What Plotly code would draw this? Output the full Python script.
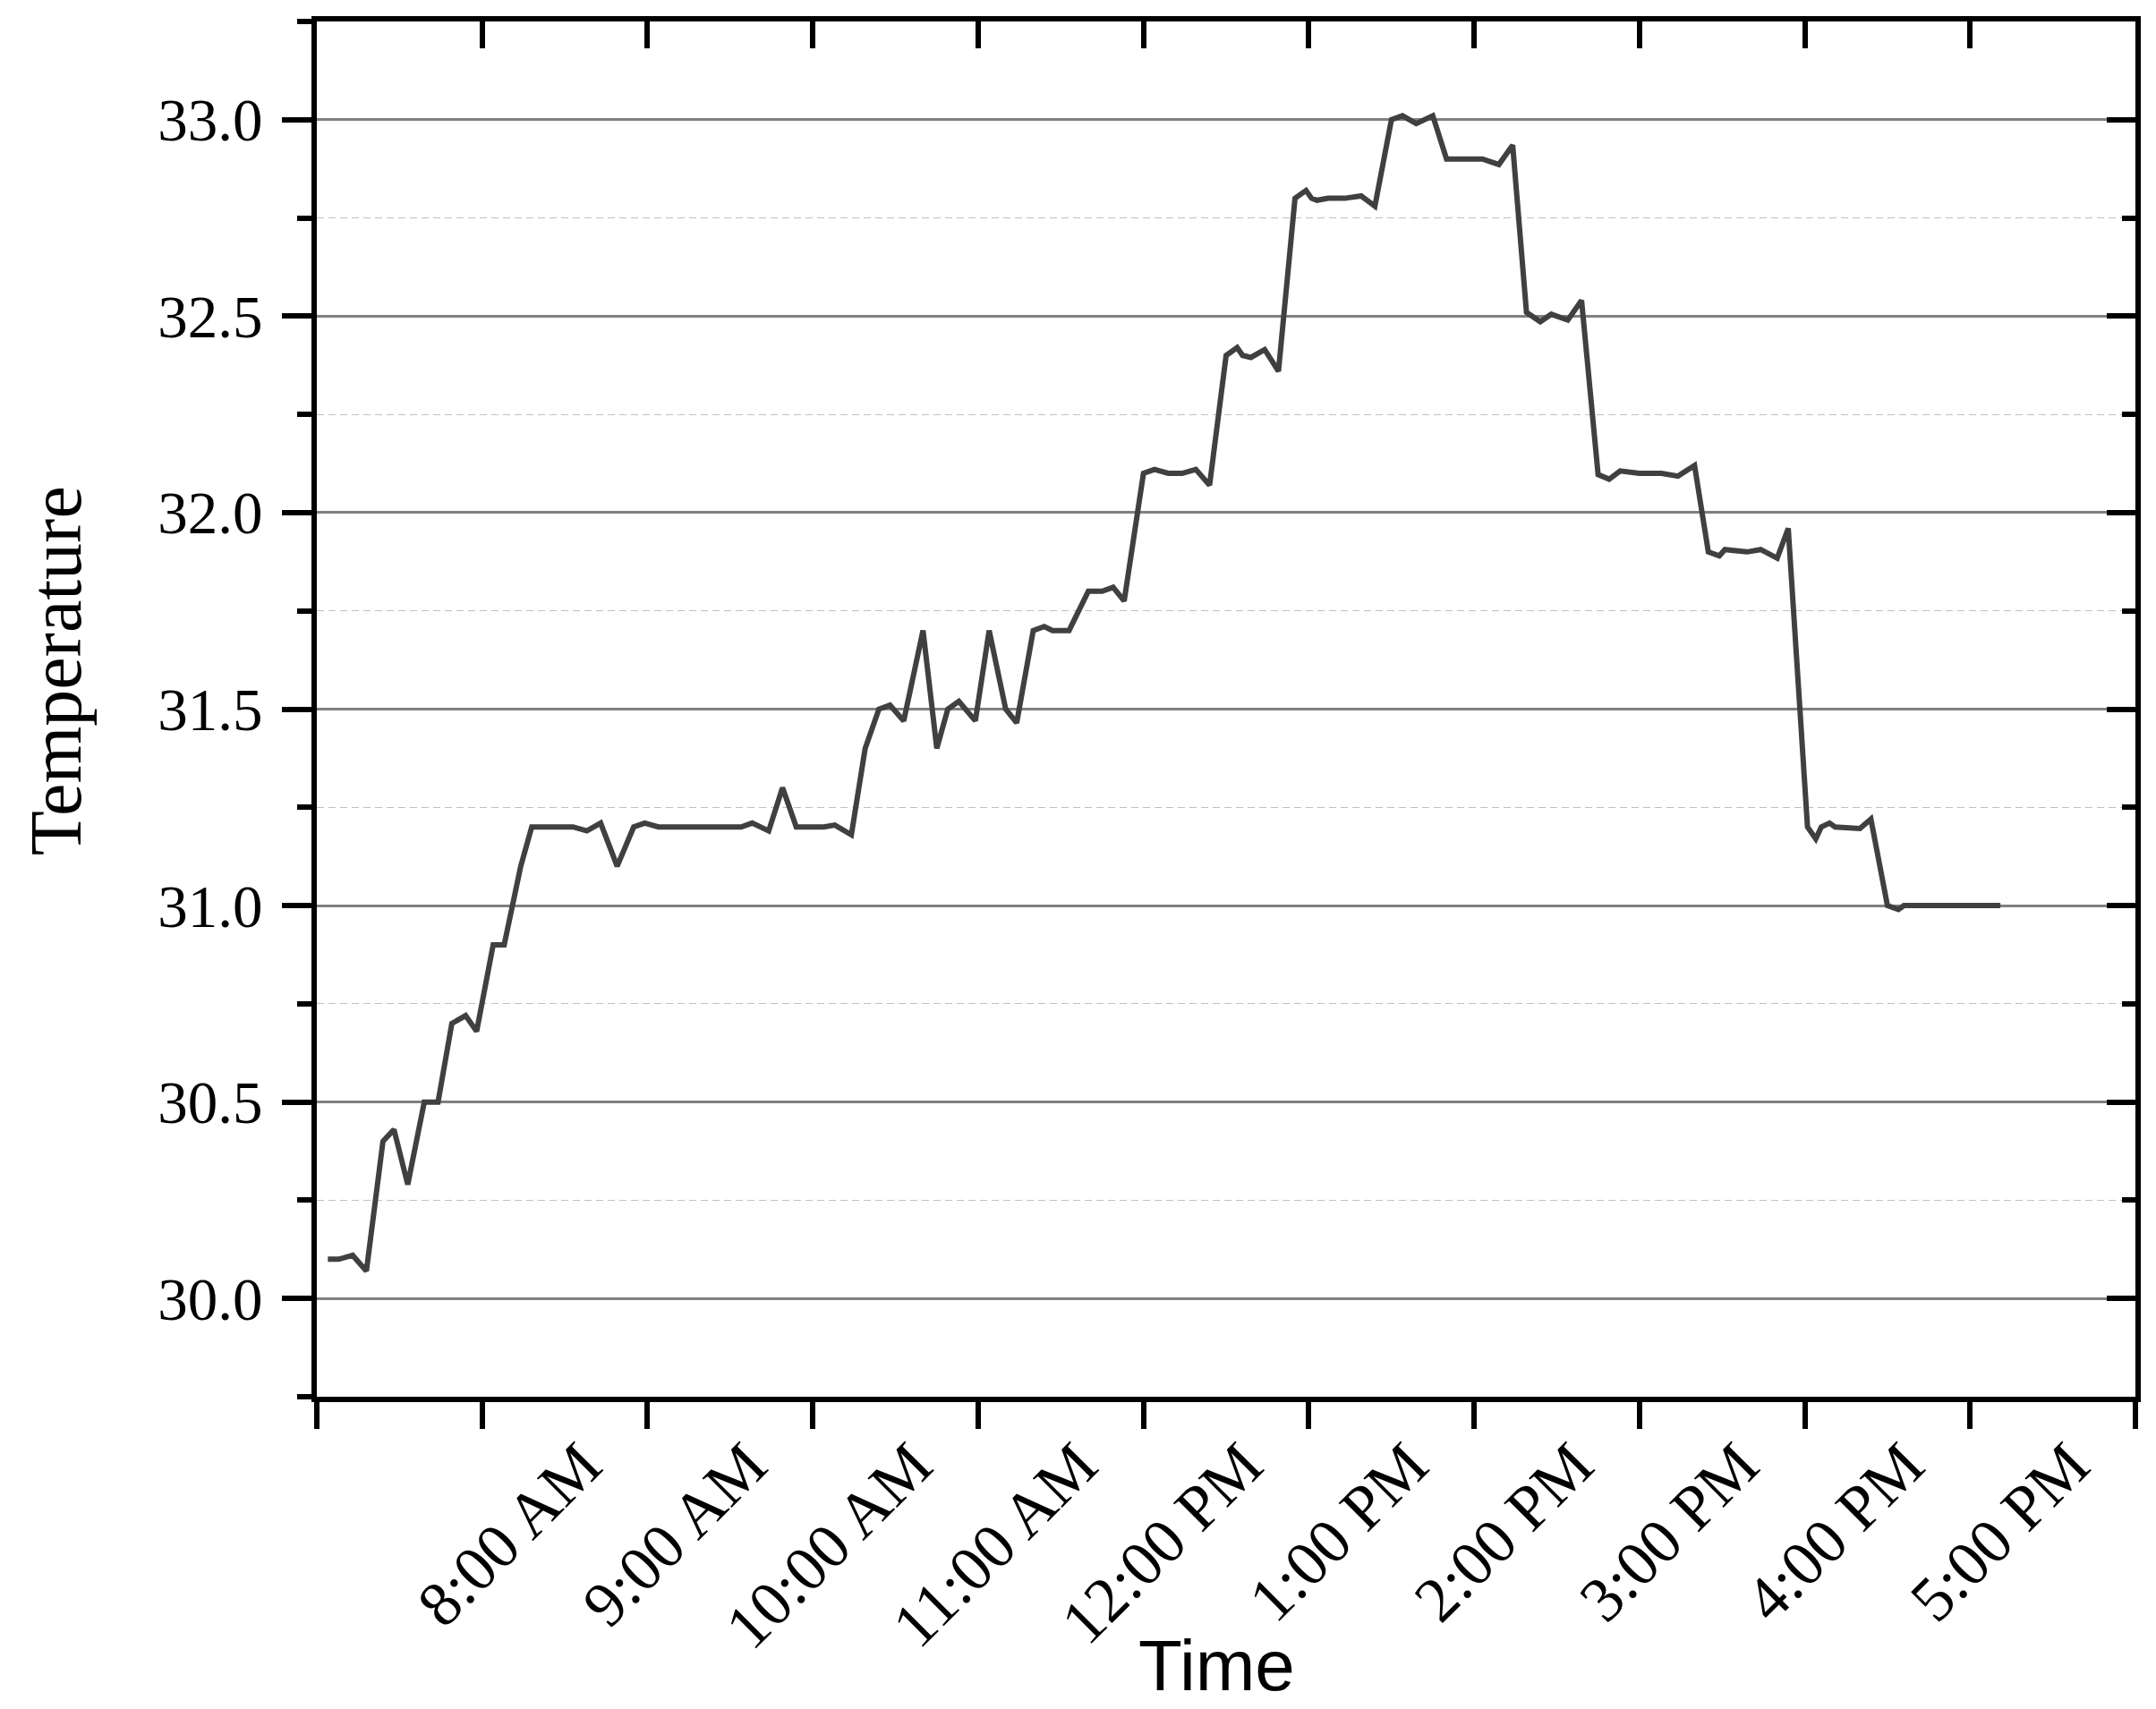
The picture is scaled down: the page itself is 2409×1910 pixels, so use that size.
import plotly.graph_objects as go

# ---- data ----
times = ["07:04","07:08","07:13","07:18","07:24","07:28","07:33","07:39","07:44","07:49",
         "07:54","07:58","08:04","08:08","08:14","08:18","08:23","08:28","08:33","08:38",
         "08:43","08:49","08:55","08:59","09:04","09:09","09:14","09:19","09:24","09:29",
         "09:34","09:38","09:44","09:49","09:54","09:59","10:04","10:08","10:14","10:19",
         "10:24","10:28","10:33","10:40","10:45","10:49","10:53","10:59","11:04","11:10",
         "11:14","11:20","11:24","11:27","11:33","11:40","11:45","11:49","11:53","12:00",
         "12:04","12:09","12:14","12:19","12:24","12:30","12:34","12:36","12:39","12:44",
         "12:49","12:55","12:59","13:01","13:03","13:07","13:13","13:19","13:24","13:30",
         "13:34","13:39","13:45","13:50","13:56","14:03","14:09","14:14","14:19","14:24",
         "14:28","14:34","14:39","14:45","14:49","14:53","15:00","15:04","15:08","15:14",
         "15:20","15:25","15:29","15:31","15:39","15:44","15:50","15:54","16:01","16:04",
         "16:06","16:09","16:11","16:20","16:24","16:30","16:34","16:36","16:44","16:49",
         "16:54","16:59","17:04","17:11"]
temperature = [30.10,30.10,30.11,30.07,30.40,30.43,30.29,30.50,30.50,30.70,
               30.72,30.68,30.90,30.90,31.10,31.20,31.20,31.20,31.20,31.19,
               31.21,31.10,31.20,31.21,31.20,31.20,31.20,31.20,31.20,31.20,
               31.20,31.21,31.19,31.30,31.20,31.20,31.20,31.205,31.18,31.40,
               31.50,31.51,31.47,31.70,31.40,31.50,31.52,31.47,31.70,31.50,
               31.465,31.70,31.71,31.70,31.70,31.80,31.80,31.81,31.775,32.10,
               32.11,32.10,32.10,32.11,32.07,32.40,32.42,32.40,32.395,32.415,
               32.36,32.80,32.82,32.80,32.795,32.80,32.80,32.806,32.78,33.00,
               33.01,32.99,33.01,32.90,32.90,32.90,32.886,32.935,32.51,32.486,
               32.505,32.49,32.54,32.097,32.085,32.106,32.10,32.10,32.10,32.093,
               32.12,31.90,31.89,31.906,31.90,31.906,31.884,31.96,31.20,31.17,
               31.20,31.21,31.20,31.196,31.22,31.00,30.99,31.00,31.00,31.00,
               31.00,31.00,31.00,31.00]
hour_ticks = ["07:00","08:00","09:00","10:00","11:00","12:00","13:00","14:00",
              "15:00","16:00","17:00","18:00"]
hour_labels = ["","8:00 AM","9:00 AM","10:00 AM","11:00 AM","12:00 PM","1:00 PM",
               "2:00 PM","3:00 PM","4:00 PM","5:00 PM",""]
y_ticks = [30.0, 30.5, 31.0, 31.5, 32.0, 32.5, 33.0]
y_labels = ["30.0","30.5","31.0","31.5","32.0","32.5","33.0"]

DAY = "2024-01-01 "
x = [DAY + t for t in times]
xt = [DAY + t for t in hour_ticks]
xrange = [DAY + "07:00", DAY + "18:00"]
yrange = [29.75, 33.25]

serif = "Liberation Serif, Times New Roman, serif"

fig = go.Figure()
fig.add_trace(go.Scatter(x=x, y=temperature, mode="lines",
                         line=dict(color="#404040", width=6), showlegend=False,
                         hoverinfo="skip"))
# invisible trace to activate the mirrored (top/right) axes
fig.add_trace(go.Scatter(x=[xrange[0]], y=[yrange[0]], mode="markers",
                         marker=dict(opacity=0), xaxis="x2", yaxis="y2",
                         showlegend=False, hoverinfo="skip"))

axis_line = dict(showline=True, linecolor="black", linewidth=6, zeroline=False)

fig.update_layout(
    width=2409, height=1910,
    margin=dict(l=346, r=31, t=16, b=357),
    paper_bgcolor="white", plot_bgcolor="white",
    xaxis=dict(type="date", range=xrange, tickmode="array", tickvals=xt,
               ticktext=hour_labels, ticks="outside", ticklen=30, tickwidth=6,
               tickcolor="black", tickangle=-45, ticklabelshift=112,
               ticklabelstandoff=-30,
               tickfont=dict(family=serif, size=71, color="black"),
               showgrid=False, **axis_line),
    yaxis=dict(range=yrange, tickmode="array", tickvals=y_ticks, ticktext=y_labels,
               ticks="outside", ticklen=33, tickwidth=6, tickcolor="black",
               ticklabelstandoff=8,
               tickfont=dict(family=serif, size=67, color="black"),
               showgrid=True, gridcolor="#808080", gridwidth=3,
               minor=dict(tick0=29.75, dtick=0.5, ticks="outside", ticklen=16,
                          tickwidth=6, tickcolor="black", showgrid=True,
                          gridcolor="#c0c0c0", gridwidth=1.3, griddash="8px,5px"),
               **axis_line),
    xaxis2=dict(type="date", range=xrange, overlaying="x", side="top", anchor="y2",
                tickmode="array", tickvals=xt, ticks="inside", ticklen=30,
                tickwidth=6, tickcolor="black", showticklabels=False,
                showgrid=False, **axis_line),
    yaxis2=dict(range=yrange, overlaying="y", side="right", anchor="x2",
                tickmode="array", tickvals=y_ticks, ticks="inside", ticklen=32,
                tickwidth=6, tickcolor="black", showticklabels=False,
                showgrid=False,
                minor=dict(tick0=29.75, dtick=0.5, ticks="inside", ticklen=15,
                           tickwidth=6, tickcolor="black", showgrid=False),
                **axis_line),
    annotations=[
        dict(text="Time", xref="paper", yref="paper", x=0.495, y=-0.1958,
             xanchor="center", yanchor="middle", showarrow=False,
             font=dict(family="Liberation Sans, Arial, sans-serif", size=80,
                       color="black")),
        dict(text="Temperature", xref="paper", yref="paper", x=-0.143, y=0.5277,
             xanchor="center", yanchor="middle", showarrow=False, textangle=-90,
             borderpad=0,
             font=dict(family=serif, size=82, color="black")),
    ],
)

fig.write_html("out.html")
